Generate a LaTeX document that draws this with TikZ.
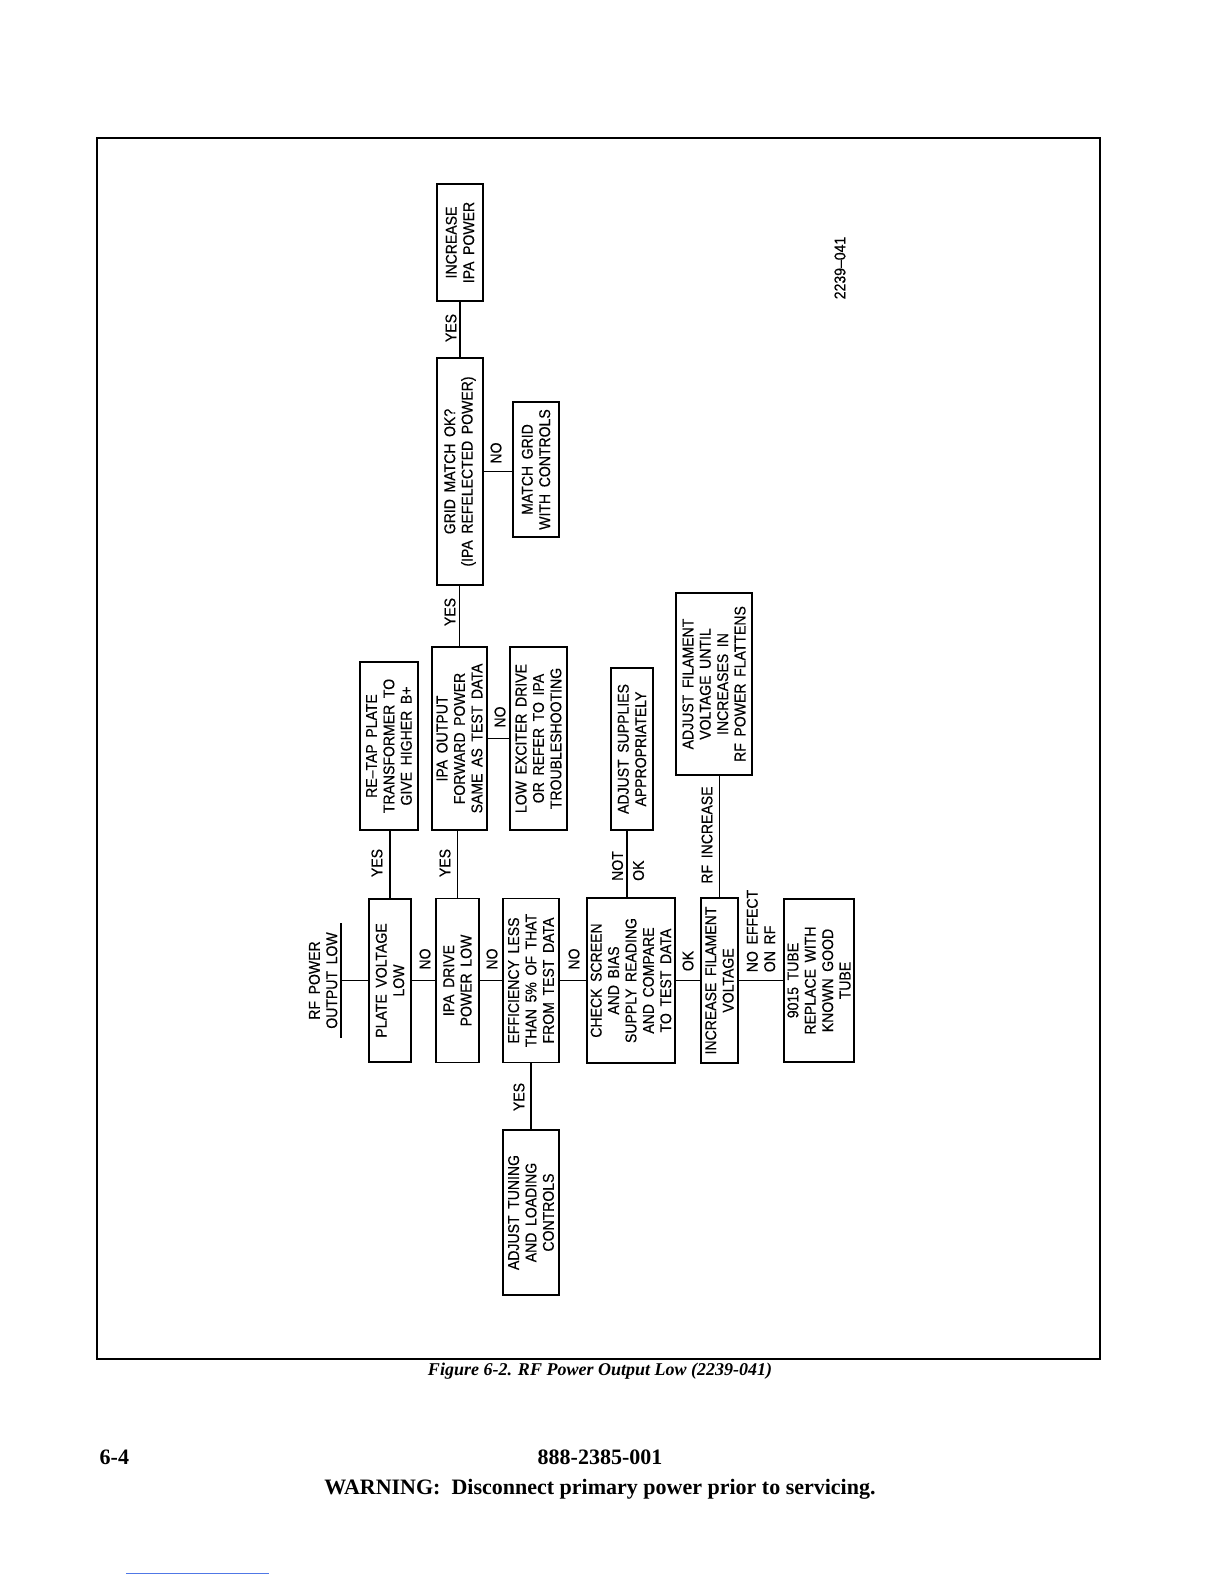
\documentclass[tikz,border=0pt]{standalone}
\usepackage{fontspec}
\setmainfont{Liberation Serif}
\newfontfamily\cadfont[FakeStretch=0.9, FakeBold=0.4, WordSpace=1.7]{Liberation Sans}
\usetikzlibrary{positioning, calc}

\definecolor{linkblue}{RGB}{80,120,230}

\tikzset{
  stepbox/.style={draw, rotate=90, align=center, inner sep=0pt},
  answer/.style={rotate=90, align=center, inner sep=0pt},
}

\begin{document}
\begin{tikzpicture}[x=0.5pt, y=-0.5pt, line width=0.7pt, font=\cadfont\fontsize{7.8}{8.7}\selectfont]
\useasboundingbox (0,0) rectangle (1224,1584);
\draw[line width=1pt] (97,138) rectangle (1100,1359);

% main chain
\node[answer, anchor=south, minimum width=56.5pt, inner ysep=1.5pt] (start) at (341,980.5) {RF POWER\\OUTPUT LOW};
\node[stepbox, minimum width=81.5pt, minimum height=21pt] (plate) at (390,980.5) {PLATE VOLTAGE\\LOW};
\node[stepbox, minimum width=82pt, minimum height=21.5pt] (drive) at (457.5,980.5) {IPA DRIVE\\POWER LOW};
\node[stepbox, minimum width=82pt, minimum height=28pt] (eff) at (531,980.5) {EFFICIENCY LESS\\THAN 5\% OF THAT\\FROM TEST DATA};
\node[stepbox, minimum width=82.5pt, minimum height=44pt] (check) at (631,980.5) {CHECK SCREEN\\AND BIAS\\SUPPLY READING\\AND COMPARE\\TO TEST DATA};
\node[stepbox, minimum width=82.5pt, minimum height=18.5pt] (incfil) at (719.5,980.5) {INCREASE FILAMENT\\VOLTAGE};
\node[stepbox, minimum width=81.5pt, minimum height=35pt] (tube) at (819,980.5) {9015 TUBE\\REPLACE WITH\\KNOWN GOOD\\TUBE};

% branches
\node[stepbox, minimum width=82.5pt, minimum height=28pt] (tuning) at (531,1212.5) {ADJUST TUNING\\AND LOADING\\CONTROLS};
\node[stepbox, minimum width=84pt, minimum height=29pt] (retap) at (389,746) {RE–TAP PLATE\\TRANSFORMER TO\\GIVE HIGHER B+};
\node[stepbox, minimum width=91.5pt, minimum height=27.5pt] (ipaout) at (459.5,738.5) {IPA OUTPUT\\FORWARD POWER\\SAME AS TEST DATA};
\node[stepbox, minimum width=91.5pt, minimum height=28.5pt] (exciter) at (538.5,738.5) {LOW EXCITER DRIVE\\OR REFER TO IPA\\TROUBLESHOOTING};
\node[stepbox, minimum width=81pt, minimum height=21pt] (supplies) at (632,749) {ADJUST SUPPLIES\\APPROPRIATELY};
\node[stepbox, minimum width=91pt, minimum height=38pt] (adjfil) at (714,684) {ADJUST FILAMENT\\VOLTAGE UNTIL\\INCREASES IN\\RF POWER FLATTENS};
\node[stepbox, minimum width=113.5pt, minimum height=23pt] (grid) at (460,471.5) {GRID MATCH OK?\\(IPA REFELECTED POWER)};
\node[stepbox, minimum width=67.5pt, minimum height=23pt] (matchgrid) at (536,469.5) {MATCH GRID\\WITH CONTROLS};
\node[stepbox, minimum width=58.5pt, minimum height=23pt] (incipa) at (460,242.5) {INCREASE\\IPA POWER};

\draw (start.south west) -- (start.south east);
\draw (start.south) -- (plate.north);
\draw (plate.south) -- (drive.north);
\draw (drive.south) -- (eff.north);
\draw (eff.south) -- (check.north);
\draw (check.south) -- (incfil.north);
\draw (incfil.south) -- (tube.north);
\draw (plate.east) -- (plate.east |- retap.west);
\draw (drive.east) -- (drive.east |- ipaout.west);
\draw (ipaout.east) -- (ipaout.east |- grid.west);
\draw (grid.east) -- (grid.east |- incipa.west);
\draw (ipaout.south) -- (exciter.north);
\draw (grid.south) -- (grid.south -| matchgrid.north);
\draw (eff.west) -- (eff.west |- tuning.east);
\draw ([xshift=-2pt]check.east) -- ([xshift=-2pt]check.east |- supplies.west);
\draw (incfil.east) -- (incfil.east |- adjfil.west);

% answers
\node[answer] (no1) at (425,959) {NO};
\node[answer] (no2) at (492,959) {NO};
\node[answer] (no3) at (574,959) {NO};
\node[answer] (ok1) at (688,961) {OK};
\node[answer, align=left] (noeffect) at (761,931) {NO EFFECT\\ON RF};
\node[answer, align=left, font=\cadfont\fontsize{7.8}{10.5}\selectfont] (notok) at (628,866) {NOT\\OK};
\node[answer] (rfinc) at (707,835) {RF INCREASE};
\node[answer] (yes1) at (377,863) {YES};
\node[answer] (yes2) at (445,863) {YES};
\node[answer] (yes3) at (450,612) {YES};
\node[answer] (yes4) at (451,328) {YES};
\node[answer] (yes5) at (519,1097) {YES};
\node[answer] (no4) at (500,717) {NO};
\node[answer] (no5) at (496,453) {NO};
\node[answer] (figno) at (840,268) {2239–041};

% page text
\node[font=\bfseries\itshape\fontsize{9}{11}\selectfont] (caption) at (600,1371) {Figure 6-2. RF Power Output Low (2239-041)};
\node[anchor=west, inner sep=0pt, font=\bfseries\fontsize{11}{13}\selectfont] (pageno) at (99,1457) {6-4};
\node[font=\bfseries\fontsize{11}{13}\selectfont] (docno) at (600,1457) {888-2385-001};
\node[font=\bfseries\fontsize{11}{13}\selectfont] (warning) at (600,1489) {WARNING:\ \ Disconnect primary power prior to servicing.};
\draw[linkblue, line width=0.5pt] (126,1573) -- (269,1573);
\end{tikzpicture}
\end{document}
